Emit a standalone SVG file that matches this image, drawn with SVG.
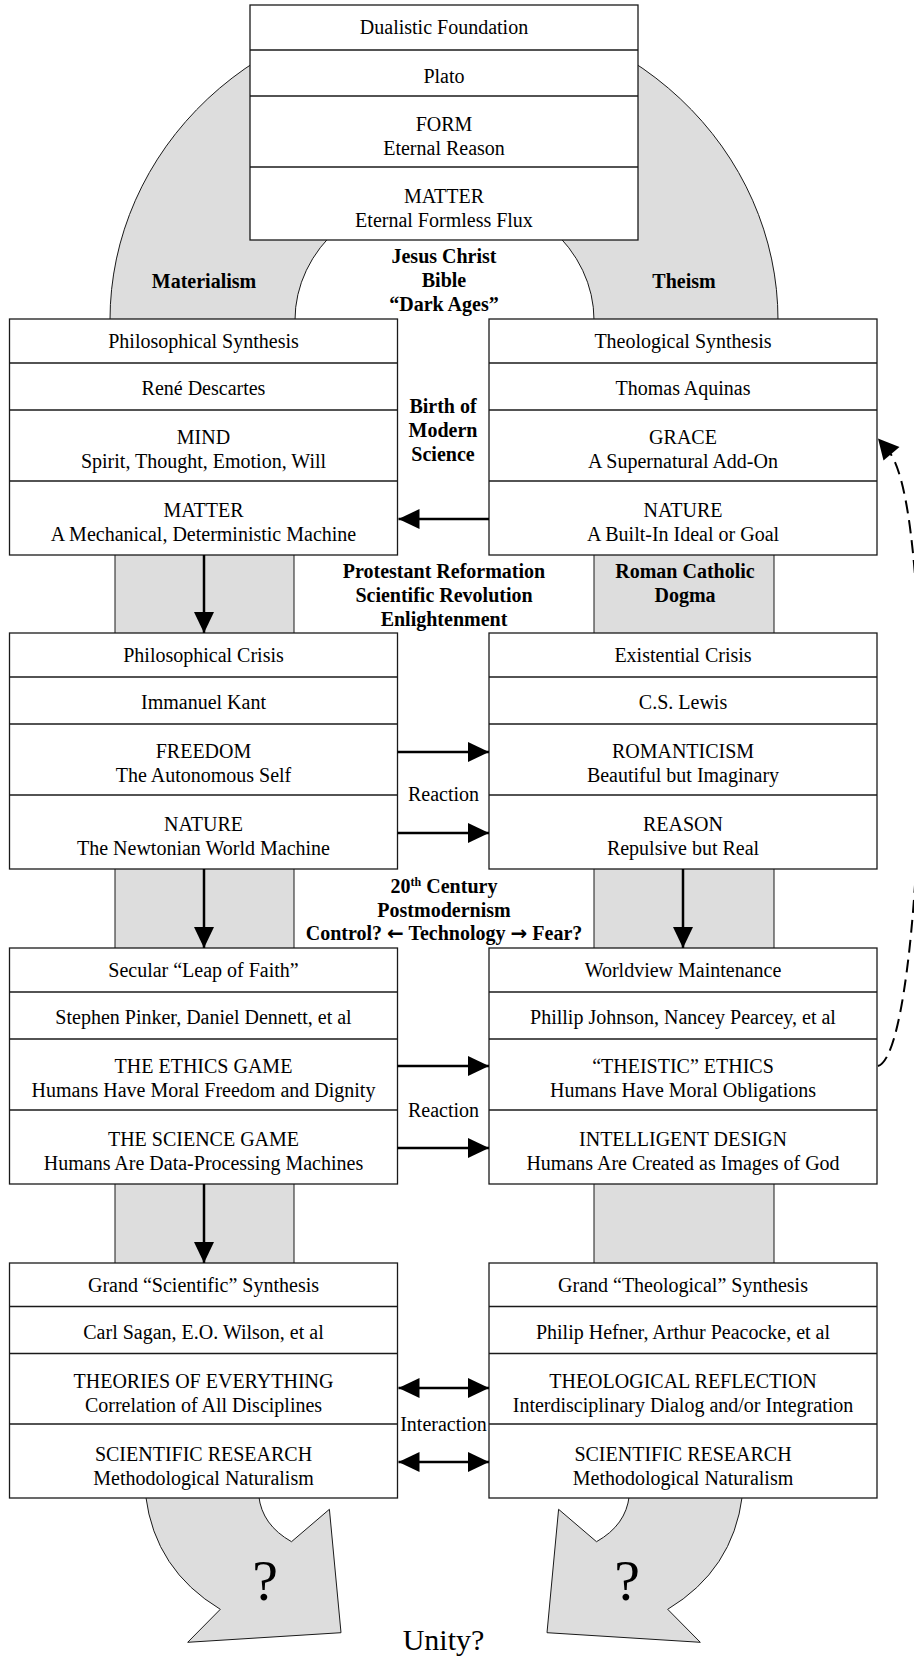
<svg xmlns="http://www.w3.org/2000/svg" width="914" height="1657" viewBox="0 0 914 1657">
<style>
.box{fill:#fff;stroke:#1a1a1a;stroke-width:1.3}
.dv{stroke:#1a1a1a;stroke-width:1.3}
.t{font-family:"Liberation Serif","Times New Roman",serif;font-size:20px;text-anchor:middle;fill:#000}
.b{font-weight:bold}
.gray{fill:#dddddd;stroke:#1a1a1a;stroke-width:1}
.arr{stroke:#000;stroke-width:2.5;fill:none}
.dash{stroke:#000;stroke-width:2;fill:none;stroke-dasharray:13 7}
.sym{font-family:"DejaVu Sans",sans-serif;font-weight:bold}
</style>
<defs>
<marker id="ah" markerUnits="userSpaceOnUse" markerWidth="22" markerHeight="20" refX="21" refY="10" orient="auto-start-reverse">
<path d="M0,0 L21,10 L0,20 Z" fill="#000"/>
</marker>
</defs>

<g id="background">
<path class="gray" d="M 110 320 A 334 313 0 0 1 778 320 L 594 320 A 149.5 130 0 0 0 295 320 Z"/>
<rect class="gray" x="115" y="545" width="179" height="725"/>
<rect class="gray" x="594" y="545" width="180" height="725"/>
<path class="gray" d="M 145.7 1496 Q 155 1570 220.3 1609.3 L 187.7 1642.3 L 341 1632.7 L 329.4 1509.3 L 291.5 1541.7 Q 262 1525 258.8 1496 Z"/>
<path class="gray" d="M 742.3 1496 Q 733 1570 667.7 1609.3 L 700.3 1642.3 L 547 1632.7 L 558.6 1509.3 L 596.5 1541.7 Q 626 1525 629.2 1496 Z"/>
</g>

<g id="labels">
<text class="t b" x="204" y="288">Materialism</text>
<text class="t b" x="684" y="288">Theism</text>
<text class="t b" x="444" y="263">Jesus Christ</text>
<text class="t b" x="444" y="287">Bible</text>
<text class="t b" x="444" y="311">“Dark Ages”</text>
<text class="t b" x="443" y="413">Birth of</text>
<text class="t b" x="443" y="437">Modern</text>
<text class="t b" x="443" y="461">Science</text>
<text class="t b" x="444" y="578">Protestant Reformation</text>
<text class="t b" x="444" y="602">Scientific Revolution</text>
<text class="t b" x="444" y="626">Enlightenment</text>
<text class="t b" x="685" y="578">Roman Catholic</text>
<text class="t b" x="685" y="602">Dogma</text>
<text class="t" x="443.5" y="801">Reaction</text>
<text class="t b" x="444" y="893">20<tspan font-size="12" dy="-7">th</tspan><tspan dy="7"> Century</tspan></text>
<text class="t b" x="444" y="917">Postmodernism</text>
<text class="t b" x="444" y="940">Control? <tspan class="sym">←</tspan> Technology <tspan class="sym">→</tspan> Fear?</text>
<text class="t" x="443.5" y="1117">Reaction</text>
<text class="t" x="443.5" y="1431">Interaction</text>
<text class="t" x="265" y="1600" style="font-size:58px">?</text>
<text class="t" x="627" y="1600" style="font-size:58px">?</text>
<text class="t" x="443.5" y="1650" style="font-size:30px">Unity?</text>
</g>

<g id="plato">
<rect class="box" x="250" y="5" width="388" height="235"/>
<line class="dv" x1="250" y1="50" x2="638" y2="50"/>
<line class="dv" x1="250" y1="96" x2="638" y2="96"/>
<line class="dv" x1="250" y1="167" x2="638" y2="167"/>
<text class="t" x="444" y="34">Dualistic Foundation</text>
<text class="t" x="444" y="83">Plato</text>
<text class="t" x="444" y="131">FORM</text>
<text class="t" x="444" y="155">Eternal Reason</text>
<text class="t" x="444" y="203">MATTER</text>
<text class="t" x="444" y="227">Eternal Formless Flux</text>
</g>

<g id="descartes">
<rect class="box" x="9.5" y="319" width="388" height="236"/>
<line class="dv" x1="9.5" y1="363" x2="397.5" y2="363"/>
<line class="dv" x1="9.5" y1="410" x2="397.5" y2="410"/>
<line class="dv" x1="9.5" y1="481" x2="397.5" y2="481"/>
<text class="t" x="203.5" y="348">Philosophical Synthesis</text>
<text class="t" x="203.5" y="395">René Descartes</text>
<text class="t" x="203.5" y="444">MIND</text>
<text class="t" x="203.5" y="468">Spirit, Thought, Emotion, Will</text>
<text class="t" x="203.5" y="517">MATTER</text>
<text class="t" x="203.5" y="541">A Mechanical, Deterministic Machine</text>
</g>

<g id="aquinas">
<rect class="box" x="489" y="319" width="388" height="236"/>
<line class="dv" x1="489" y1="363" x2="877" y2="363"/>
<line class="dv" x1="489" y1="410" x2="877" y2="410"/>
<line class="dv" x1="489" y1="481" x2="877" y2="481"/>
<text class="t" x="683" y="348">Theological Synthesis</text>
<text class="t" x="683" y="395">Thomas Aquinas</text>
<text class="t" x="683" y="444">GRACE</text>
<text class="t" x="683" y="468">A Supernatural Add-On</text>
<text class="t" x="683" y="517">NATURE</text>
<text class="t" x="683" y="541">A Built-In Ideal or Goal</text>
</g>

<g id="kant">
<rect class="box" x="9.5" y="633" width="388" height="236"/>
<line class="dv" x1="9.5" y1="677" x2="397.5" y2="677"/>
<line class="dv" x1="9.5" y1="724" x2="397.5" y2="724"/>
<line class="dv" x1="9.5" y1="795" x2="397.5" y2="795"/>
<text class="t" x="203.5" y="662">Philosophical Crisis</text>
<text class="t" x="203.5" y="709">Immanuel Kant</text>
<text class="t" x="203.5" y="758">FREEDOM</text>
<text class="t" x="203.5" y="782">The Autonomous Self</text>
<text class="t" x="203.5" y="831">NATURE</text>
<text class="t" x="203.5" y="855">The Newtonian World Machine</text>
</g>

<g id="lewis">
<rect class="box" x="489" y="633" width="388" height="236"/>
<line class="dv" x1="489" y1="677" x2="877" y2="677"/>
<line class="dv" x1="489" y1="724" x2="877" y2="724"/>
<line class="dv" x1="489" y1="795" x2="877" y2="795"/>
<text class="t" x="683" y="662">Existential Crisis</text>
<text class="t" x="683" y="709">C.S. Lewis</text>
<text class="t" x="683" y="758">ROMANTICISM</text>
<text class="t" x="683" y="782">Beautiful but Imaginary</text>
<text class="t" x="683" y="831">REASON</text>
<text class="t" x="683" y="855">Repulsive but Real</text>
</g>

<g id="pinker">
<rect class="box" x="9.5" y="948" width="388" height="236"/>
<line class="dv" x1="9.5" y1="992" x2="397.5" y2="992"/>
<line class="dv" x1="9.5" y1="1039" x2="397.5" y2="1039"/>
<line class="dv" x1="9.5" y1="1110" x2="397.5" y2="1110"/>
<text class="t" x="203.5" y="977">Secular “Leap of Faith”</text>
<text class="t" x="203.5" y="1024">Stephen Pinker, Daniel Dennett, et al</text>
<text class="t" x="203.5" y="1073">THE ETHICS GAME</text>
<text class="t" x="203.5" y="1097">Humans Have Moral Freedom and Dignity</text>
<text class="t" x="203.5" y="1146">THE SCIENCE GAME</text>
<text class="t" x="203.5" y="1170">Humans Are Data-Processing Machines</text>
</g>

<g id="johnson">
<rect class="box" x="489" y="948" width="388" height="236"/>
<line class="dv" x1="489" y1="992" x2="877" y2="992"/>
<line class="dv" x1="489" y1="1039" x2="877" y2="1039"/>
<line class="dv" x1="489" y1="1110" x2="877" y2="1110"/>
<text class="t" x="683" y="977">Worldview Maintenance</text>
<text class="t" x="683" y="1024">Phillip Johnson, Nancey Pearcey, et al</text>
<text class="t" x="683" y="1073">“THEISTIC” ETHICS</text>
<text class="t" x="683" y="1097">Humans Have Moral Obligations</text>
<text class="t" x="683" y="1146">INTELLIGENT DESIGN</text>
<text class="t" x="683" y="1170">Humans Are Created as Images of God</text>
</g>

<g id="sagan">
<rect class="box" x="9.5" y="1263" width="388" height="235"/>
<line class="dv" x1="9.5" y1="1306.5" x2="397.5" y2="1306.5"/>
<line class="dv" x1="9.5" y1="1353.5" x2="397.5" y2="1353.5"/>
<line class="dv" x1="9.5" y1="1424" x2="397.5" y2="1424"/>
<text class="t" x="203.5" y="1292">Grand “Scientific” Synthesis</text>
<text class="t" x="203.5" y="1339">Carl Sagan, E.O. Wilson, et al</text>
<text class="t" x="203.5" y="1388">THEORIES OF EVERYTHING</text>
<text class="t" x="203.5" y="1412">Correlation of All Disciplines</text>
<text class="t" x="203.5" y="1461">SCIENTIFIC RESEARCH</text>
<text class="t" x="203.5" y="1485">Methodological Naturalism</text>
</g>

<g id="hefner">
<rect class="box" x="489" y="1263" width="388" height="235"/>
<line class="dv" x1="489" y1="1306.5" x2="877" y2="1306.5"/>
<line class="dv" x1="489" y1="1353.5" x2="877" y2="1353.5"/>
<line class="dv" x1="489" y1="1424" x2="877" y2="1424"/>
<text class="t" x="683" y="1292">Grand “Theological” Synthesis</text>
<text class="t" x="683" y="1339">Philip Hefner, Arthur Peacocke, et al</text>
<text class="t" x="683" y="1388">THEOLOGICAL REFLECTION</text>
<text class="t" x="683" y="1412">Interdisciplinary Dialog and/or Integration</text>
<text class="t" x="683" y="1461">SCIENTIFIC RESEARCH</text>
<text class="t" x="683" y="1485">Methodological Naturalism</text>
</g>

<g id="connectors">
<path class="arr" d="M 489 519 L 398.5 519" marker-end="url(#ah)"/>
<path class="arr" d="M 204 555 L 204 633" marker-end="url(#ah)"/>
<path class="arr" d="M 397.5 752 L 489 752" marker-end="url(#ah)"/>
<path class="arr" d="M 397.5 833 L 489 833" marker-end="url(#ah)"/>
<path class="arr" d="M 204 869 L 204 948" marker-end="url(#ah)"/>
<path class="arr" d="M 683 869 L 683 948" marker-end="url(#ah)"/>
<path class="arr" d="M 397.5 1066 L 489 1066" marker-end="url(#ah)"/>
<path class="arr" d="M 397.5 1148 L 489 1148" marker-end="url(#ah)"/>
<path class="arr" d="M 204 1184 L 204 1263" marker-end="url(#ah)"/>
<path class="arr" d="M 398.5 1388 L 489 1388" marker-start="url(#ah)" marker-end="url(#ah)"/>
<path class="arr" d="M 398.5 1462 L 489 1462" marker-start="url(#ah)" marker-end="url(#ah)"/>
<path class="dash" d="M 878 1066 C 925 1052, 938 520, 890 453"/>
<polygon points="878,438.5 899.5,447 883.5,460.5" fill="#000"/>
</g>
</svg>
